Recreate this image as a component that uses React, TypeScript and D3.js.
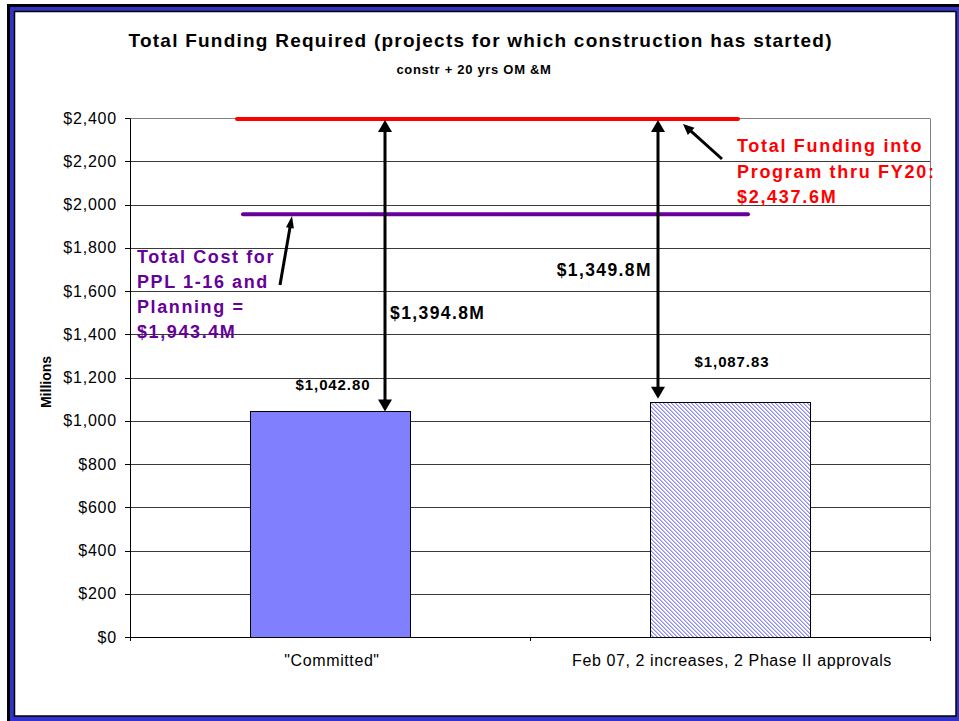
import React from 'react';
import * as d3 from 'd3';

const categories = ['"Committed"', 'Feb 07, 2 increases, 2 Phase II approvals'];
const barValues = [1042.8, 1087.83];
const barLabels = ['$1,042.80', '$1,087.83'];
const yTicks = [0, 200, 400, 600, 800, 1000, 1200, 1400, 1600, 1800, 2000, 2200, 2400];
const fundingTotal = 2437.6;
const costTotal = 1955;
const gapLabels = ['$1,394.8M', '$1,349.8M'];
const redNote = ['Total Funding into', 'Program thru FY20:', '$2,437.6M'];
const purpleNote = ['Total Cost for', 'PPL 1-16 and', 'Planning =', '$1,943.4M'];
const title = 'Total Funding Required (projects for which construction has started)';
const subtitle = 'constr + 20 yrs OM &M';
const yAxisTitle = 'Millions';

const W = 959;
const H = 721;
const L = 130, R = 930, T = 118, B = 637;
const FONT = '"Liberation Sans", Arial, Helvetica, sans-serif';
const PURPLE = '#660099';
const RED = '#FF0000';

const fmt = (v: number) => '$' + d3.format(',')(v);

function Arrow({ x1, y1, x2, y2, hw, hl, sw }: { x1: number; y1: number; x2: number; y2: number; hw: number; hl: number; sw: number }) {
  const dx = x2 - x1, dy = y2 - y1;
  const len = Math.hypot(dx, dy);
  const ux = dx / len, uy = dy / len;
  const bx = x2 - ux * hl, by = y2 - uy * hl;
  const px = -uy, py = ux;
  const pts = `${x2},${y2} ${bx + px * hw / 2},${by + py * hw / 2} ${bx - px * hw / 2},${by - py * hw / 2}`;
  return (
    <g>
      <line x1={x1} y1={y1} x2={bx + ux * 1} y2={by + uy * 1} stroke="#000" strokeWidth={sw} />
      <polygon points={pts} fill="#000" />
    </g>
  );
}

function DoubleArrow({ x, y1, y2 }: { x: number; y1: number; y2: number }) {
  const hw = 14, hl = 12;
  return (
    <g>
      <line x1={x} y1={y1 + hl - 1} x2={x} y2={y2 - hl + 1} stroke="#000" strokeWidth={3} />
      <polygon points={`${x},${y1} ${x - hw / 2},${y1 + hl} ${x + hw / 2},${y1 + hl}`} fill="#000" />
      <polygon points={`${x},${y2} ${x - hw / 2},${y2 - hl} ${x + hw / 2},${y2 - hl}`} fill="#000" />
    </g>
  );
}

export default function App() {
  const x = d3.scaleBand<string>().domain(categories).range([L, R]).paddingInner(0.6).paddingOuter(0.3);
  const y = d3.scaleLinear().domain([0, 2400]).range([B, T]).clamp(true);
  const crisp = (v: number) => Math.round(v) + 0.5;

  const arrowX = [x(categories[0])! + 135, x(categories[1])! + 8];
  const redY = y(fundingTotal);
  const purpleY = y(costTotal);

  return (
    <svg width={W} height={H} style={{ position: 'absolute', left: 0, top: 0 }} fontFamily={FONT}>
      <defs>
        <pattern id="hatch" width={4} height={4} patternUnits="userSpaceOnUse">
          <rect width={4} height={4} fill="#fff" />
          {[0, 1, 2, 3].map((i) => (
            <g key={i}>
              <rect x={i} y={i} width={1} height={1} fill="#8C8CF3" />
              <rect x={(i + 1) % 4} y={i} width={1} height={1} fill="#BDBDF8" />
            </g>
          ))}
        </pattern>
      </defs>
      {/* frame */}
      <rect x={8.5} y={5.5} width={W + 10} height={H + 10} fill="#3333CC" stroke="#000" strokeWidth={3} />
      <rect x={14.5} y={11.5} width={956 - 14.5} height={716 - 11.5} fill="#fff" stroke="#000" strokeWidth={1.5} />

      {/* title */}
      <text x={480} y={47} textAnchor="middle" fontSize={19} fontWeight="bold" textLength={703} lengthAdjust="spacing">{title}</text>
      <text x={474} y={74} textAnchor="middle" fontSize={13} fontWeight="bold" letterSpacing={0.7}>{subtitle}</text>

      {/* gridlines */}
      {yTicks.filter((t) => t > 0 && t < 2400).map((t) => (
        <line key={t} x1={L} x2={R} y1={crisp(y(t))} y2={crisp(y(t))} stroke="#3a3a3a" strokeWidth={1} />
      ))}
      <line x1={L} x2={R} y1={crisp(y(2400))} y2={crisp(y(2400))} stroke="#808080" strokeWidth={1} />
      <line x1={R + 0.5} x2={R + 0.5} y1={crisp(y(2400))} y2={B} stroke="#808080" strokeWidth={1} />

      {/* bars */}
      {categories.map((c, i) => (
        <rect key={c} x={x(c)! + 0.5} y={crisp(y(barValues[i]))} width={x.bandwidth()} height={B - crisp(y(barValues[i])) + 0.5}
          fill={i === 0 ? '#8080FF' : 'url(#hatch)'} stroke="#000" strokeWidth={1} />
      ))}

      {/* axes */}
      <line x1={L + 0.5} x2={L + 0.5} y1={crisp(y(2400))} y2={B + 4} stroke="#000" strokeWidth={1} />
      <line x1={L} x2={R + 1} y1={B + 0.5} y2={B + 0.5} stroke="#000" strokeWidth={1} />
      {yTicks.map((t) => (
        <g key={t}>
          <line x1={L - 5} x2={L} y1={crisp(y(t))} y2={crisp(y(t))} stroke="#000" strokeWidth={1} />
          <text x={117} y={y(t) + 5.5} textAnchor="end" fontSize={16} letterSpacing={0.8}>{fmt(t)}</text>
        </g>
      ))}
      {[L + 400, R].map((xx) => (
        <line key={xx} x1={xx + 0.5} x2={xx + 0.5} y1={B} y2={B + 4} stroke="#000" strokeWidth={1} />
      ))}
      {categories.map((c) => (
        <text key={c} x={x(c)! + x.bandwidth() / 2 + 2} y={666} textAnchor="middle" fontSize={16} letterSpacing={0.6}>{c}</text>
      ))}
      <text transform="translate(51,382) rotate(-90)" textAnchor="middle" fontSize={14} fontWeight="bold">{yAxisTitle}</text>

      {/* reference lines */}
      <line x1={243} x2={748} y1={purpleY} y2={purpleY} stroke={PURPLE} strokeWidth={4} strokeLinecap="round" />
      <line x1={237} x2={738} y1={redY + 1} y2={redY + 1} stroke={RED} strokeWidth={4} strokeLinecap="round" />

      {/* bar labels */}
      <text x={x(categories[0])! + x.bandwidth() / 2 + 3} y={y(barValues[0]) - 21} textAnchor="middle" fontSize={15} fontWeight="bold" letterSpacing={0.9}>{barLabels[0]}</text>
      <text x={x(categories[1])! + x.bandwidth() / 2 + 2} y={y(barValues[1]) - 35} textAnchor="middle" fontSize={15} fontWeight="bold" letterSpacing={0.9}>{barLabels[1]}</text>

      {/* gap arrows */}
      <DoubleArrow x={arrowX[0]} y1={redY + 2} y2={y(barValues[0])} />
      <DoubleArrow x={arrowX[1]} y1={redY + 2} y2={y(barValues[1]) - 3} />
      <text x={arrowX[0] + 5} y={319} fontSize={17.5} fontWeight="bold" letterSpacing={1.4}>{gapLabels[0]}</text>
      <text x={arrowX[1] - 6} y={276} textAnchor="end" fontSize={17.5} fontWeight="bold" letterSpacing={1.4}>{gapLabels[1]}</text>

      {/* annotation pointers */}
      <Arrow x1={722} y1={159} x2={683} y2={124} hw={10} hl={11} sw={3} />
      <Arrow x1={280} y1={285} x2={292} y2={216} hw={8} hl={12} sw={3} />

      {/* notes */}
      {redNote.map((s, i) => (
        <text key={s} x={737} y={152 + i * 25.5} fontSize={18} fontWeight="bold" fill={RED} letterSpacing={1.7}>{s}</text>
      ))}
      {purpleNote.map((s, i) => (
        <text key={s} x={137} y={263 + i * 25} fontSize={18} fontWeight="bold" fill={PURPLE} letterSpacing={1.6}>{s}</text>
      ))}
    </svg>
  );
}
